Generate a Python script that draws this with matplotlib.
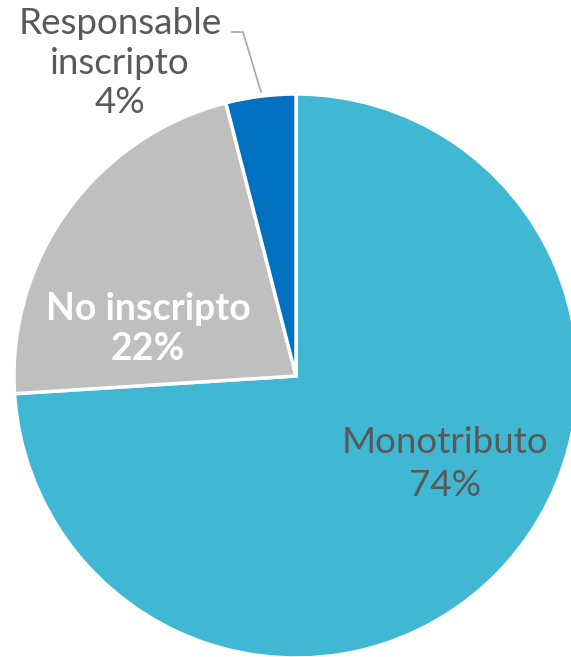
import matplotlib
matplotlib.use("Agg")
import matplotlib.pyplot as plt

categories = ["Monotributo", "No inscripto", "Responsable\ninscripto"]
values = [74, 22, 4]
colors = ["#41B8D3", "#BFBFBF", "#0070C0"]

W, H = 571, 657
CX, CY, R = 296, 376, 282

fig = plt.figure(figsize=(W / 100, H / 100), dpi=100)
ax = fig.add_axes([0, 0, 1, 1])
ax.pie(values, colors=colors, startangle=90, counterclock=False, radius=1,
       wedgeprops=dict(edgecolor="white", linewidth=2.5))
ax.set_xlim(-CX / R, (W - CX) / R)
ax.set_ylim(-(H - CY) / R, CY / R)
ax.set_aspect("equal")
ax.axis("off")

def px(x, y):
    return ((x - CX) / R, (CY - y) / R)

font = "Lato"
gray = "#595959"
ax.text(*px(445, 464), f"{categories[0]}\n{values[0]}%", ha="center", va="center",
        fontsize=26.5, color=gray, family=font, linespacing=1.38)
ax.text(*px(148, 329), f"{categories[1]}\n{values[1]}%", ha="center", va="center",
        fontsize=27, color="white", family=font, fontweight="bold", linespacing=1.25)
ax.text(*px(120, 63), f"{categories[2]}\n{values[2]}%", ha="center", va="center",
        fontsize=26.5, color=gray, family=font, linespacing=1.25)

xs, ys = zip(px(232, 32), px(243, 32), px(261, 92))
ax.plot(xs, ys, color="#A6A6A6", lw=1.2)

fig.savefig("out.png", dpi=100)
